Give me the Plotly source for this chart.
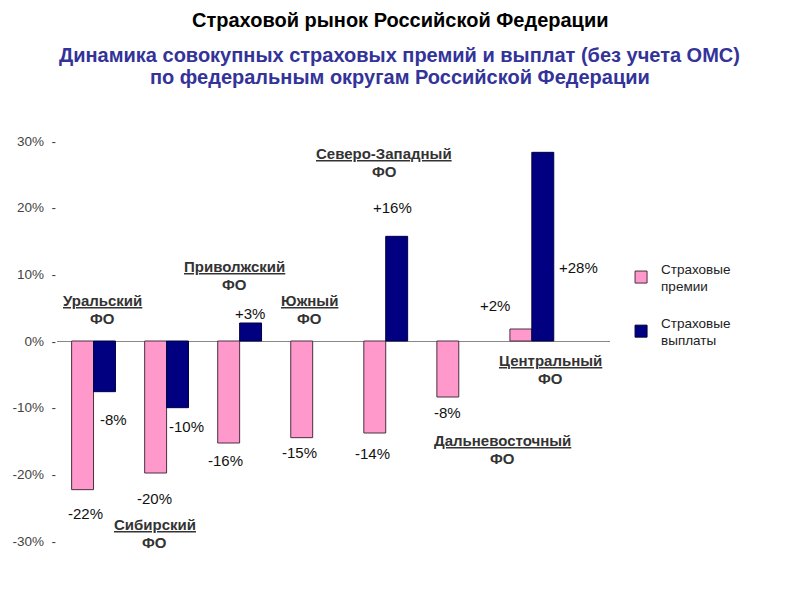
import plotly.graph_objects as go

districts = ["Уральский", "Сибирский", "Приволжский", "Южный", "Северо-Западный", "Дальневосточный", "Центральный"]
premiums = [-22.3, -19.8, -15.3, -14.5, -13.8, -8.4, 1.8]
payouts = [-7.6, -10.0, 2.7, None, 15.7, None, 28.3]
premium_labels = ["-22%", "-20%", "-16%", "-15%", "-14%", "-8%", "+2%"]
payout_labels = ["-8%", "-10%", "+3%", None, "+16%", None, "+28%"]
series_names = ["Страховые<br>премии", "Страховые<br>выплаты"]
ytick_vals = [-30, -20, -10, 0, 10, 20, 30]
title_text = "Страховой рынок Российской Федерации"
subtitle_lines = ["Динамика совокупных страховых премий и выплат (без учета ОМС)",
                  "по федеральным округам Российской Федерации"]

FONT = "Liberation Sans, Arial, sans-serif"
x = list(range(len(districts)))

fig = go.Figure()
fig.add_trace(go.Bar(x=x, y=premiums, name=series_names[0], legendgroup="a",
                     marker=dict(color="#FF99CC", line=dict(color="#4a3040", width=1))))
fig.add_trace(go.Bar(x=x, y=payouts, name=series_names[1], legendgroup="b",
                     marker=dict(color="#000080", line=dict(color="#000040", width=1))))

# value label offsets (pixel shifts relative to bar end)
prem_shift = [(3, -24), (-1, -25), (-3, -17), (-2, -15), (-2, -20), (0, -15), (-26, 24)]
pay_shift = [(9, -28), (9, -19), (-1, 10), None, (-4, 29), None, (36, -115)]

annotations = []
for i in x:
    dx, dy = prem_shift[i]
    annotations.append(dict(x=i - 0.15, y=premiums[i], xref="x", yref="y", text=premium_labels[i],
                            showarrow=False, xshift=dx, yshift=dy,
                            font=dict(family=FONT, size=15, color="#111")))
    if payouts[i] is not None:
        dx, dy = pay_shift[i]
        annotations.append(dict(x=i + 0.15, y=payouts[i], xref="x", yref="y", text=payout_labels[i],
                                showarrow=False, xshift=dx, yshift=dy,
                                font=dict(family=FONT, size=15, color="#111")))

# district name label positions (category offset, y value of label centre)
name_pos = [(0.12, 4.8), (0.84, -28.9), (1.93, 9.9), (2.95, 4.8), (3.98, 26.8), (5.6, -16.3), (6.25, -4.3)]
for i, (px, py) in enumerate(name_pos):
    for txt, ys in ((f"<b><u>{districts[i]}</u></b>", 9), ("<b>ФО</b>", -9)):
        annotations.append(dict(x=px, y=py, xref="x", yref="y", text=txt,
                                showarrow=False, align="center", yshift=ys,
                                font=dict(family=FONT, size=15, color="#333")))

TX = (400 - 57.5) / (610 - 57.5)
annotations.append(dict(x=TX, y=1.0, xref="paper", yref="paper", xanchor="center", yanchor="middle",
                        yshift=121, showarrow=False, text=f"<b>{title_text}</b>",
                        font=dict(family=FONT, size=20, color="#000")))
for k, line in enumerate(subtitle_lines):
    annotations.append(dict(x=TX, y=1.0, xref="paper", yref="paper", xanchor="center", yanchor="middle",
                            yshift=86 - 22 * k, showarrow=False, text=f"<b>{line}</b>",
                            font=dict(family=FONT, size=20, color="#333399")))

fig.update_layout(
    width=800, height=600,
    margin=dict(l=49, r=198, t=133, b=67, autoexpand=False),
    paper_bgcolor="white", plot_bgcolor="white",
    barmode="group", bargap=0.4, bargroupgap=0,
    font=dict(family=FONT),
    showlegend=True,
    legend=dict(x=1.02, y=0.72, xanchor="left", yanchor="top", tracegroupgap=16,
                font=dict(family=FONT, size=13.5, color="#222"), itemwidth=30),
    annotations=annotations,
    xaxis=dict(range=[-0.5, 7.07], showticklabels=False, showgrid=False, zeroline=False,
               showline=False, ticks="", automargin=False),
    yaxis=dict(range=[-30, 30], tickvals=ytick_vals,
               ticktext=[f"{v}%  -" for v in ytick_vals],
               tickfont=dict(family=FONT, size=13.5, color="#444"),
               showgrid=False, zeroline=True, zerolinecolor="#888", zerolinewidth=1,
               showline=False, ticks="", automargin=False),
)

fig.write_html("out.html")
